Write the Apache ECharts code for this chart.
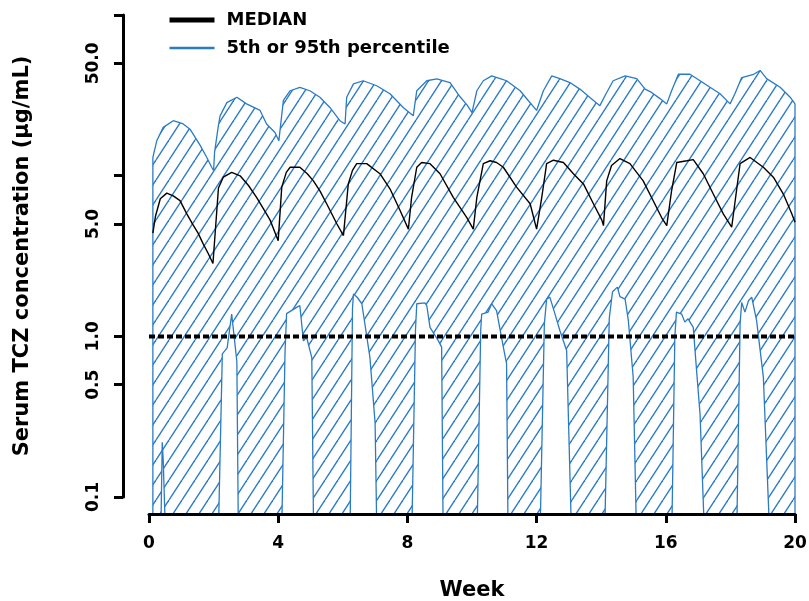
<!DOCTYPE html>
<html>
<head>
<meta charset="utf-8">
<title>Serum TCZ concentration</title>
<script src="https://cdn.jsdelivr.net/npm/echarts@6/dist/echarts.min.js"></script>
<style>
  html, body { margin: 0; padding: 0; background: #fff; }
  #main { width: 809px; height: 601px; }
</style>
</head>
<body>
<div id="main"></div>
<script>
// [week, ug/mL]. 0.01 / 0.05 = below the bottom of the axis
var p95 = [
  [0.12, 0.01], [0.12, 13], [0.24, 16.5], [0.44, 20], [0.75, 22], [1.06, 21], [1.27, 19.5],
  [1.58, 15.5], [1.79, 13], [1.94, 11.3], [2.0, 10.8],
  [2.03, 14], [2.14, 20], [2.2, 23.6], [2.41, 28.5], [2.72, 30.8], [3.02, 28], [3.44, 25.5],
  [3.64, 21], [3.9, 18.6], [4.02, 16.5],
  [4.16, 29.4], [4.37, 33.8], [4.67, 35.5], [4.98, 33.8], [5.29, 30.8], [5.6, 26.6], [5.91, 22], [6.07, 21],
  [6.12, 30.8], [6.33, 37.3], [6.63, 39], [7.05, 36.3], [7.46, 32.4], [7.87, 26.6], [8.18, 23.6],
  [8.29, 33.8], [8.6, 39], [8.91, 40], [9.32, 38], [9.63, 31], [9.85, 27.5], [10.0, 24.7],
  [10.15, 33.8], [10.35, 39], [10.61, 41.8], [10.87, 40.2], [11.07, 39], [11.49, 33.8], [11.74, 29.4], [12.0, 25.5],
  [12.21, 33.8], [12.47, 41.8], [12.72, 40.2], [13.03, 38], [13.34, 34.6], [13.76, 29.4], [13.96, 27.3],
  [14.12, 31.6], [14.37, 39], [14.74, 41.8], [15.1, 40.2], [15.36, 34.6], [15.56, 33], [15.82, 30.2], [16.03, 28],
  [16.18, 33.8], [16.39, 42.8], [16.75, 42.8], [17.06, 39], [17.37, 35.5], [17.68, 32.4], [17.99, 28],
  [18.14, 32.4], [18.35, 40.8], [18.72, 42.8], [18.92, 45.2], [19.12, 40.2], [19.54, 35.5], [19.85, 30.8],
  [20, 28], [20, 0.01]
];

var p5 = [
  [0.12, 0.05], [0.36, 0.05], [0.41, 0.22], [0.44, 0.17], [0.52, 0.05],
  [2.14, 0.05], [2.27, 0.78], [2.42, 0.85], [2.56, 1.38], [2.72, 0.7], [2.77, 0.05],
  [4.1, 0.05], [4.21, 0.78], [4.26, 1.39], [4.57, 1.52], [4.67, 1.56], [4.78, 0.94], [4.88, 0.99], [5.04, 0.74], [5.1, 0.05],
  [6.22, 0.05], [6.3, 1.5], [6.33, 1.84], [6.45, 1.75], [6.59, 1.6], [6.84, 0.74], [7.0, 0.29], [7.06, 0.05],
  [8.13, 0.05], [8.25, 1.1], [8.29, 1.6], [8.54, 1.62], [8.6, 1.56], [8.7, 1.14], [8.96, 0.94], [9.06, 0.86], [9.11, 0.05],
  [10.15, 0.05], [10.27, 1.1], [10.3, 1.38], [10.5, 1.42], [10.61, 1.6], [10.76, 1.45], [10.97, 0.86], [11.07, 0.68], [11.12, 0.05],
  [12.1, 0.05], [12.24, 1.2], [12.31, 1.71], [12.41, 1.76], [12.57, 1.38], [12.72, 1.09], [12.93, 0.82], [13.09, 0.05],
  [14.1, 0.05], [14.25, 1.3], [14.35, 1.9], [14.5, 2.03], [14.58, 1.77], [14.74, 1.71], [14.84, 1.26], [14.99, 0.56], [15.1, 0.05],
  [16.18, 0.05], [16.28, 1.0], [16.33, 1.42], [16.49, 1.38], [16.59, 1.23], [16.69, 1.29], [16.85, 1.14], [16.96, 0.59], [17.06, 0.33], [17.21, 0.05],
  [18.19, 0.05], [18.3, 1.2], [18.35, 1.63], [18.45, 1.42], [18.56, 1.67], [18.66, 1.76], [18.81, 1.26], [19.02, 0.56], [19.23, 0.05],
  [20, 0.05]
];

var median = [
  [0.12, 4.4], [0.2, 5.6], [0.35, 7.2], [0.55, 7.8], [0.75, 7.5], [0.96, 7.0], [1.17, 5.8], [1.35, 5.0],
  [1.52, 4.4], [1.67, 3.8], [1.83, 3.3], [1.98, 2.85],
  [2.15, 8.4], [2.3, 9.8], [2.56, 10.5], [2.82, 10.0], [3.08, 8.7], [3.33, 7.35], [3.55, 6.2], [3.75, 5.3], [4.0, 3.95],
  [4.11, 8.5], [4.25, 10.5], [4.37, 11.3], [4.67, 11.3], [4.9, 10.3], [5.09, 9.3], [5.3, 8.0], [5.5, 6.7], [5.81, 5.05], [6.02, 4.25],
  [6.17, 8.9], [6.3, 10.8], [6.43, 11.9], [6.74, 11.9], [7.15, 10.3], [7.46, 8.3], [7.77, 6.1], [8.03, 4.66],
  [8.13, 7.35], [8.29, 11.3], [8.44, 12.1], [8.7, 11.9], [9.01, 10.3], [9.42, 7.35], [9.84, 5.5], [10.04, 4.66],
  [10.15, 7.35], [10.35, 11.9], [10.56, 12.4], [10.76, 12.1], [10.97, 11.3], [11.38, 8.5], [11.8, 6.7], [12.0, 4.66],
  [12.16, 7.35], [12.31, 11.9], [12.52, 12.5], [12.83, 12.1], [13.14, 10.3], [13.45, 8.9], [13.76, 6.7], [14.02, 5.3], [14.07, 4.9],
  [14.17, 9.3], [14.32, 11.6], [14.58, 12.8], [14.89, 11.9], [15.3, 9.3], [15.61, 7.0], [15.87, 5.5], [16.03, 4.9],
  [16.18, 8.1], [16.34, 12.1], [16.65, 12.4], [16.85, 12.6], [17.16, 10.3], [17.47, 7.7], [17.78, 5.8], [18.04, 4.8],
  [18.19, 8.1], [18.3, 11.9], [18.61, 13.0], [19.02, 11.3], [19.33, 9.8], [19.64, 7.7], [19.9, 5.8], [20, 5.15]
];

// dotted reference line at 1.0 ug/mL
var cutoff = [[0, 1], [20, 1]];

var yTicks = [0.1, 0.5, 1, 5, 10, 50, 100];
var yLabels = [0.1, 0.5, 1, 5, 50];

var BLUE = '#2a7bc5';
var FONT = 'DejaVu Sans';

// diagonal hatch tile for the 5th-95th band
function makeHatch() {
  var c = document.createElement('canvas');
  c.width = 13;
  c.height = 20;
  var ctx = c.getContext('2d');
  ctx.strokeStyle = BLUE;
  ctx.lineWidth = 1.4;
  for (var k = -1; k <= 1; k++) {
    ctx.beginPath();
    ctx.moveTo(k * 13, 20);
    ctx.lineTo(k * 13 + 13, 0);
    ctx.stroke();
  }
  return c;
}

var chart = echarts.init(document.getElementById('main'), null, { renderer: 'canvas' });

var option = {
  animation: false,
  backgroundColor: '#fff',
  legend: {
    orient: 'vertical',
    left: 167,
    top: 11,
    padding: 0,
    itemWidth: 45,
    itemHeight: 14,
    itemGap: 10,
    // hide the circle marker that line series put in the legend icon
    itemStyle: { opacity: 0 },
    textStyle: { fontFamily: FONT, fontWeight: 'bold', fontSize: 18, color: '#000', padding: [0, 0, 0, 7] },
    data: [
      { name: 'MEDIAN', lineStyle: { width: 5, color: '#000' } },
      { name: '5th or 95th percentile', lineStyle: { width: 2.5, color: BLUE } }
    ]
  },
  grid: [
    // data area
    { left: 149, right: 14, top: 15, bottom: 87, outerBoundsMode: 'none' },
    // only carries the offset y axis (0.1 .. 100)
    { left: 123, width: 10, top: 15, bottom: 104, outerBoundsMode: 'none' }
  ],
  xAxis: [
    {
      type: 'value',
      gridIndex: 0,
      min: 0,
      max: 20,
      interval: 4,
      z: 10,
      name: 'Week',
      nameLocation: 'middle',
      nameGap: 66,
      nameTextStyle: { fontFamily: FONT, fontWeight: 'bold', fontSize: 21, color: '#000' },
      axisLine: { show: true, lineStyle: { color: '#000', width: 3 } },
      axisTick: { show: true, length: 9, lineStyle: { color: '#000', width: 3 } },
      axisLabel: { margin: 21, fontFamily: FONT, fontWeight: 'bold', fontSize: 17, color: '#000' },
      splitLine: { show: false }
    },
    { type: 'value', gridIndex: 1, show: false, min: 0, max: 1 }
  ],
  yAxis: [
    { type: 'log', gridIndex: 0, min: 0.0788, max: 100, show: false },
    {
      type: 'log',
      gridIndex: 1,
      min: 0.1,
      max: 100,
      name: 'Serum TCZ concentration (μg/mL)',
      nameLocation: 'middle',
      nameGap: 90,
      nameTextStyle: { fontFamily: FONT, fontWeight: 'bold', fontSize: 21, color: '#000' },
      axisLine: { show: true, lineStyle: { color: '#000', width: 3 } },
      axisTick: { show: true, length: 9, lineStyle: { color: '#000', width: 3 }, customValues: yTicks },
      axisLabel: {
        customValues: yLabels,
        rotate: 90,
        margin: 21,
        fontFamily: FONT,
        fontWeight: 'bold',
        fontSize: 17,
        color: '#000',
        formatter: function (v) { return Number(v).toFixed(1); }
      },
      splitLine: { show: false }
    }
  ],
  series: [
    {
      name: '5th or 95th percentile',
      type: 'line',
      data: p95,
      symbol: 'none',
      lineStyle: { color: BLUE, width: 1.3 },
      itemStyle: { color: BLUE },
      areaStyle: { color: { image: makeHatch(), repeat: 'repeat' }, opacity: 1 },
      z: 2
    },
    {
      name: '5th or 95th percentile',
      type: 'line',
      data: p5,
      symbol: 'none',
      lineStyle: { color: BLUE, width: 1.3 },
      itemStyle: { color: BLUE },
      areaStyle: { color: '#ffffff', opacity: 1 },
      z: 3
    },
    {
      name: 'MEDIAN',
      type: 'line',
      data: median,
      symbol: 'none',
      lineStyle: { color: '#000', width: 1.4 },
      itemStyle: { color: '#000' },
      z: 4
    },
    {
      name: 'cutoff',
      type: 'line',
      data: cutoff,
      symbol: 'none',
      clip: false,
      lineStyle: { color: '#000', width: 4, type: [6, 3] },
      z: 5
    }
  ]
};

chart.setOption(option);
</script>
</body>
</html>
